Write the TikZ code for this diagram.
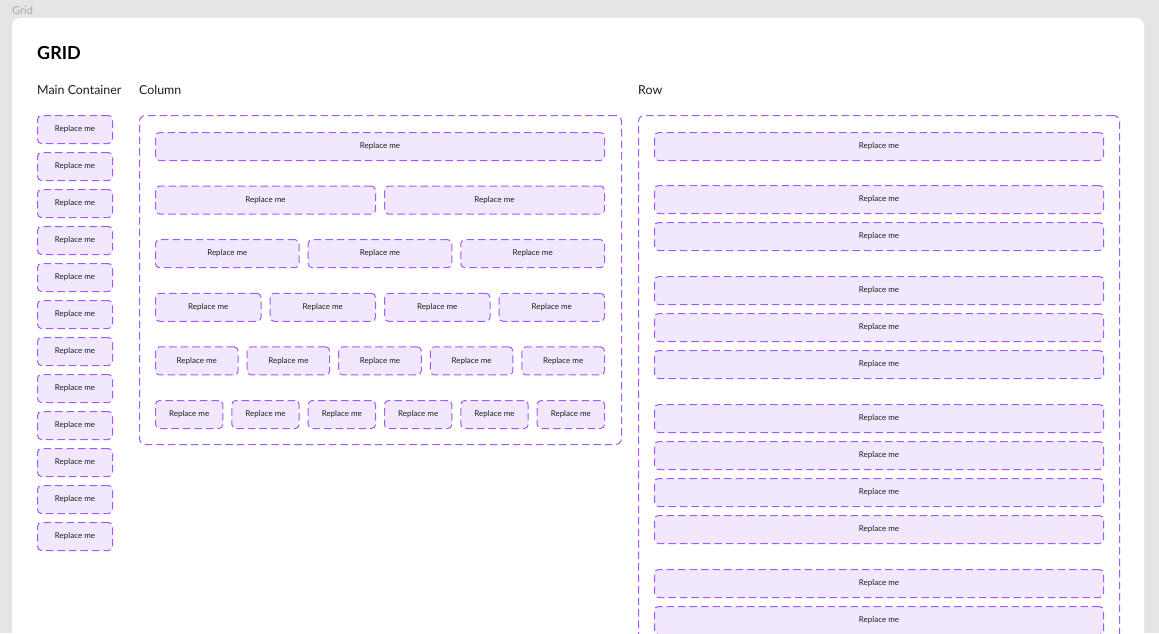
\documentclass[tikz,border=0pt]{standalone}
\usepackage{fontspec}
\setmainfont{Lato}
\usetikzlibrary{positioning}
\definecolor{bggrid}{HTML}{E5E5E5}
\definecolor{purplegrid}{HTML}{A259FF}
\definecolor{lavendergrid}{HTML}{F1E8FD}
\definecolor{labelgrid}{HTML}{A8A8A8}
\definecolor{textgrid}{HTML}{1E1E1E}

\begin{document}
\begin{tikzpicture}[
      x=1pt, y=-1pt,
      slot/.style={
        draw=purplegrid,
        fill=lavendergrid,
        line width=1pt,
        dash pattern=on 7.5pt off 4pt,
        rounded corners=4pt,
        anchor=north west,
        minimum height=28pt,
        inner sep=0pt,
        text=textgrid,
        font=\fontsize{8}{9}\selectfont
      },
      frame/.style={
        draw=purplegrid,
        line width=1pt,
        dash pattern=on 7.5pt off 4pt,
        rounded corners=6pt,
        anchor=north west,
        inner sep=0pt
      },
      heading/.style={
        anchor=base west,
        inner sep=0pt,
        text=textgrid,
        font=\fontsize{12.4}{14}\selectfont
      },
  ]

        \useasboundingbox (0,0) rectangle (1159,633);
        \clip (0,0) rectangle (1159,633);

        % canvas and panel
        \fill[bggrid] (0,0) rectangle (1159,633);
        \node[anchor=base west, inner sep=0pt, text=labelgrid,
              font=\fontsize{11}{13}\selectfont] (canvaslabel) at (12,14) {Grid};
        \fill[white, rounded corners=8pt] (12,18) rectangle (1144,720);

        % titles
        \node[anchor=base west, inner sep=0pt, text=black,
              font=\fontsize{18}{20}\selectfont\bfseries] (gridtitle) at (37,59) {GRID};
        \node[heading] (maintitle) at (37,94) {Main Container};
        \node[heading] (columntitle) at (139,94) {Column};
        \node[heading] (rowtitle) at (638,94) {Row};

        % 1. Main Container
        \foreach \i in {0,...,11}
            \node[slot, minimum width=75pt] (main-\i) at (37,{115+37*\i}) {Replace me};

        % 2. Column
        \node[frame, minimum width=482pt, minimum height=329pt] (column) at (139,115) {};
        \foreach \n in {1,...,6} {
            \pgfmathsetmacro\boxw{(449-9*(\n-1))/\n}
            \pgfmathsetmacro\rowy{132+53.6*(\n-1)}
            \foreach \k in {1,...,\n}
                \node[slot, minimum width=\boxw pt] (col-\n-\k)
                    at ({155+(\k-1)*(\boxw+9)},\rowy) {Replace me};
        }

        % 3. Row
        \node[frame, minimum width=481pt, minimum height=700pt] (row) at (638,115) {};
        \foreach \g/\m/\s in {1/1/132,2/2/185,3/3/276,4/4/404,5/2/569}
            \foreach \k in {1,...,\m}
                \node[slot, minimum width=449pt] (row-\g-\k)
                    at (654,{\s+37*(\k-1)}) {Replace me};
  \end{tikzpicture}
\end{document}
